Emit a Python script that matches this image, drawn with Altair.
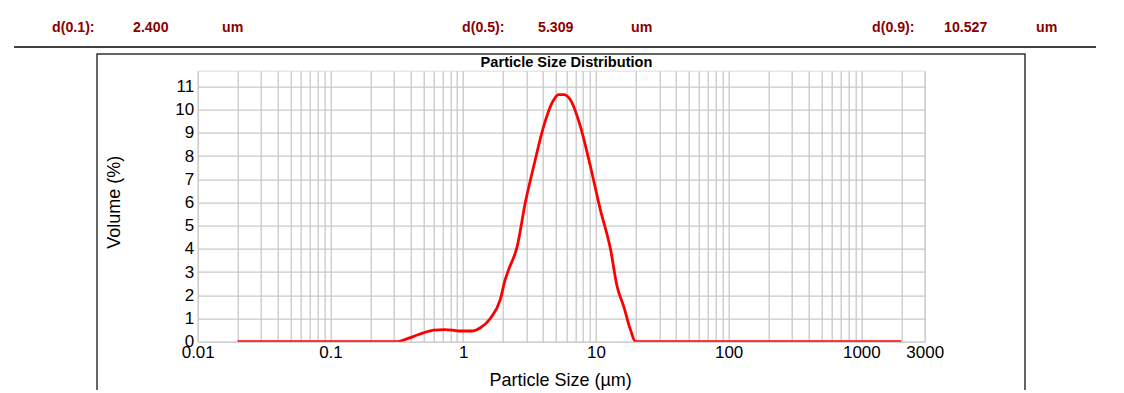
import altair as alt
import pandas as pd

# ---- data ----
size_um = [0.02, 0.32, 0.36, 0.42, 0.50, 0.60, 0.72, 0.83, 0.95, 1.10, 1.20, 1.35,
           1.60, 1.90, 2.07, 2.20, 2.55, 2.94, 3.40, 4.04, 4.67, 5.24, 5.71, 6.42,
           7.64, 9.09, 10.8, 12.9, 14.45, 16.2, 18.2, 19.9, 2000.0]
volume_pct = [0.0, 0.0, 0.08, 0.22, 0.38, 0.50, 0.52, 0.50, 0.46, 0.46, 0.47, 0.60,
              1.00, 1.80, 2.66, 3.10, 4.10, 6.00, 7.56, 9.28, 10.29, 10.65, 10.65, 10.43,
              9.28, 7.56, 5.69, 3.97, 2.38, 1.52, 0.52, 0.0, 0.0]

x_grid_values = [0.01, 0.02, 0.03, 0.04, 0.05, 0.06, 0.07, 0.08, 0.09,
                 0.1, 0.2, 0.3, 0.4, 0.5, 0.6, 0.7, 0.8, 0.9,
                 1, 2, 3, 4, 5, 6, 7, 8, 9,
                 10, 20, 30, 40, 50, 60, 70, 80, 90,
                 100, 200, 300, 400, 500, 600, 700, 800, 900,
                 1000, 2000, 3000]
x_label_values = ["0.01", "0.1", "1", "10", "100", "1000", "3000"]
y_tick_values = [0, 1, 2, 3, 4, 5, 6, 7, 8, 9, 10, 11]

header_names = ["d(0.1):", "d(0.5):", "d(0.9):"]
header_values = ["2.400", "5.309", "10.527"]
header_unit = "um"

chart_title = "Particle Size Distribution"
x_title = "Particle Size (µm)"
y_title = "Volume (%)"

df = pd.DataFrame({"size": size_um, "volume": volume_pct})

# ---- layout (pixels) ----
OX, OY = 197.7, 70.7          # plot-area origin on the page
W, H = 727, 271
FONT = "Liberation Sans"
RED_DARK = "#8b0000"

label_list = ",".join("'%s'" % v for v in x_label_values)
label_expr = ("indexof([%s], format(datum.value, '~g')) >= 0 ? format(datum.value, '~g') : ''"
              % label_list)

line = alt.Chart(df).mark_line(color="#ff0000", strokeWidth=2.8, clip=True,
                               interpolate="monotone").encode(
    x=alt.X("size:Q",
            scale=alt.Scale(type="log", domain=[0.01, 3000], nice=False),
            axis=alt.Axis(values=x_grid_values, labelExpr=label_expr, grid=True,
                          gridColor="#c8c8c8", gridWidth=1.3, ticks=False, domain=False,
                          labelOverlap=False, labelFlush=False, labelFont=FONT,
                          labelFontSize=17, labelColor="#000", labelPadding=3,
                          title=x_title, titleFont=FONT, titleFontSize=18,
                          titleFontWeight="normal", titleColor="#000",
                          titleX=362.5, titleY=38.5, titleBaseline="middle",
                          titleAlign="center")),
    y=alt.Y("volume:Q",
            scale=alt.Scale(domain=[0, 11.68], nice=False, zero=True),
            axis=alt.Axis(values=y_tick_values, grid=True, gridColor="#c8c8c8",
                          gridWidth=1.3, ticks=False, domain=False, labelFont=FONT,
                          labelFontSize=17, labelColor="#000", labelPadding=4,
                          title=y_title, titleFont=FONT, titleFontSize=18,
                          titleFontWeight="normal", titleColor="#000",
                          titleX=-83, titleY=131, titleBaseline="middle",
                          titleAlign="center", titleAngle=-90)),
)

one = alt.Data(values=[{}])


def txt(s, px, py, size, weight="bold", color=RED_DARK, align="left"):
    return alt.Chart(one).mark_text(
        text=s, font=FONT, fontSize=size, fontWeight=weight, color=color,
        align=align, baseline="middle").encode(
        x=alt.value(px - OX), y=alt.value(py - OY))


layers = []
# outer frame box
layers.append(alt.Chart(one).mark_rect(fill=None, stroke="#333", strokeWidth=1.5).encode(
    x=alt.value(97 - OX), x2=alt.value(1025 - OX),
    y=alt.value(54 - OY), y2=alt.value(420 - OY)))
# separator line under the header
layers.append(alt.Chart(one).mark_rule(color="#000", strokeWidth=1.5).encode(
    x=alt.value(14 - OX), x2=alt.value(1096 - OX), y=alt.value(47 - OY)))

name_x = [52, 462, 872]
val_x = [133, 538, 944]
unit_x = [222, 631, 1036]
for i in range(3):
    layers.append(txt(header_names[i], name_x[i], 28, 14.2))
    layers.append(txt(header_values[i], val_x[i], 28, 14.2))
    layers.append(txt(header_unit, unit_x[i], 28, 14.2))

# chart title
layers.append(txt(chart_title, 566.5, 63.5, 14.6, color="#000", align="center"))

chart = alt.layer(*layers, line).properties(
    width=W, height=H,
    autosize=alt.AutoSizeParams(type="none"),
    padding={"left": OX - 8, "top": OY - 8, "right": 1124 - 16 - (OX - 8) - W,
             "bottom": 48},
).configure_view(stroke="#000", strokeWidth=1.6).configure(background="white")

chart.save("out.html", embed_options={"renderer": "svg", "actions": False})
